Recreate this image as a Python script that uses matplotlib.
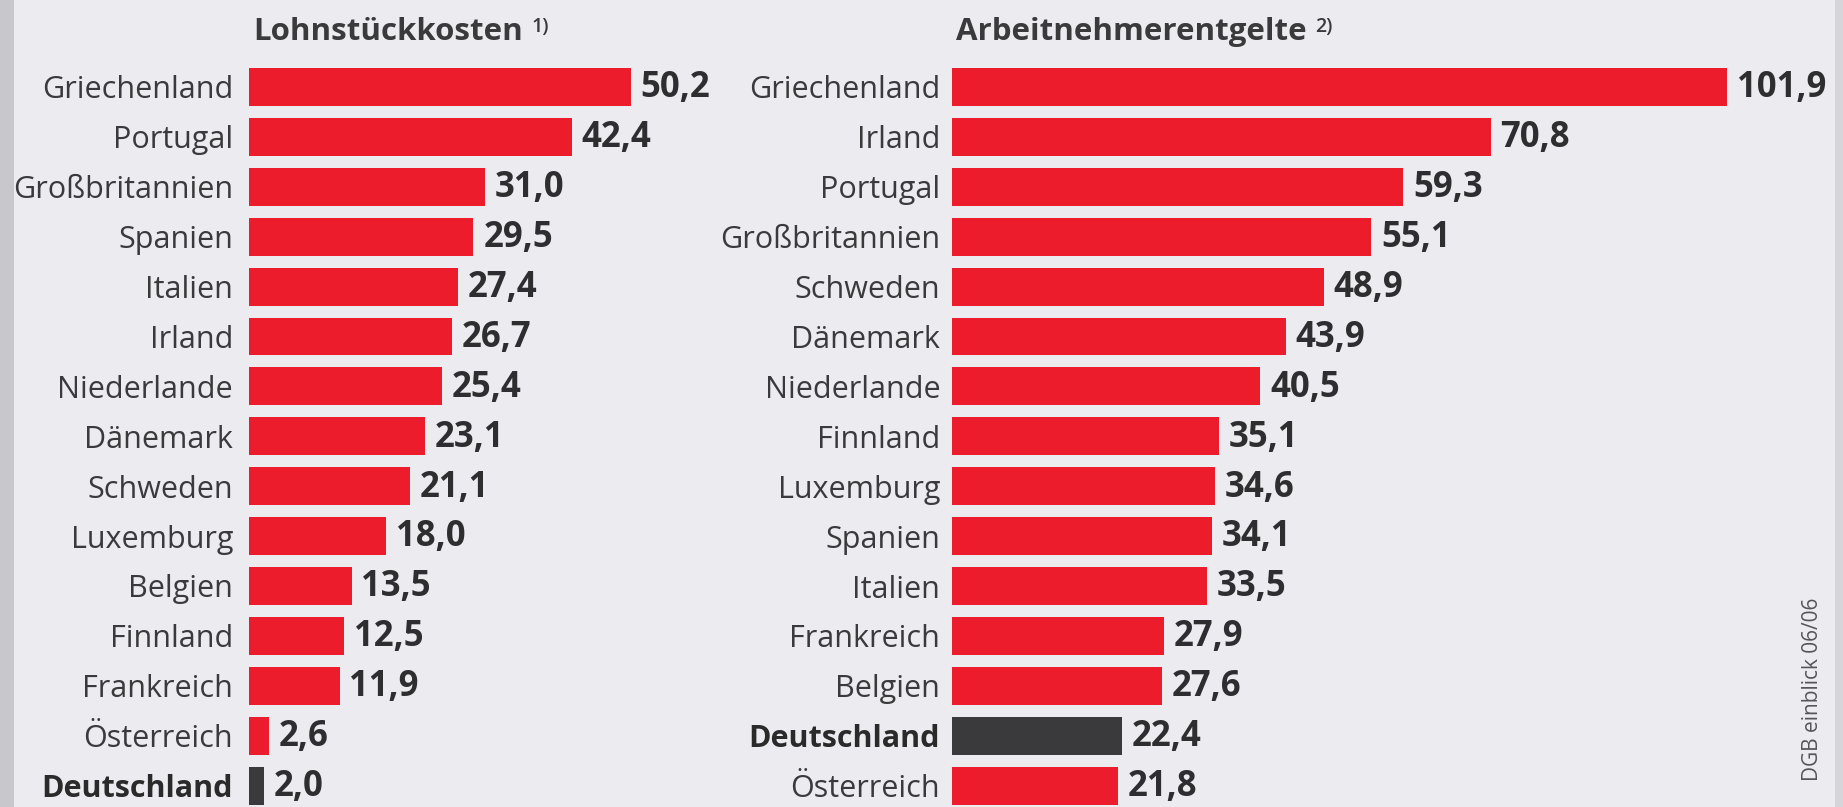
import matplotlib.pyplot as plt
from matplotlib.patches import Rectangle

#### data
left_countries = ['Griechenland', 'Portugal', 'Großbritannien', 'Spanien', 'Italien',
                  'Irland', 'Niederlande', 'Dänemark', 'Schweden', 'Luxemburg',
                  'Belgien', 'Finnland', 'Frankreich', 'Österreich', 'Deutschland']
left_values = [50.2, 42.4, 31.0, 29.5, 27.4, 26.7, 25.4, 23.1, 21.1, 18.0,
               13.5, 12.5, 11.9, 2.6, 2.0]

right_countries = ['Griechenland', 'Irland', 'Portugal', 'Großbritannien', 'Schweden',
                   'Dänemark', 'Niederlande', 'Finnland', 'Luxemburg', 'Spanien',
                   'Italien', 'Frankreich', 'Belgien', 'Deutschland', 'Österreich']
right_values = [101.9, 70.8, 59.3, 55.1, 48.9, 43.9, 40.5, 35.1, 34.6, 34.1,
                33.5, 27.9, 27.6, 22.4, 21.8]

left_title = 'Lohnstückkosten'
right_title = 'Arbeitnehmerentgelte'
left_note = '1)'
right_note = '2)'
source = 'DGB einblick 06/06'

#### styling
W, H = 1843, 807
BG = '#ecebf0'
RED = '#ec1c2c'
DARK = '#3a393b'
TXT = '#3a3a3c'
plt.rcParams['font.family'] = ['Open Sans', 'DejaVu Sans']

PX_PER_UNIT = 7.61
ROW = 49.9
FIRST = 87.0

fig = plt.figure(figsize=(W / 100, H / 100), dpi=100)
fig.patch.set_facecolor(BG)

### scanned page edges
fig.patches.append(Rectangle((0, 0), 14 / W, 1, transform=fig.transFigure,
                             facecolor='#c8c8cc', edgecolor='none', zorder=0))
fig.patches.append(Rectangle((1835 / W, 0), 8 / W, 1, transform=fig.transFigure,
                             facecolor='#d6d6da', edgecolor='none', zorder=0))


def panel(x0_px, width_px, countries, values, pad_label, title, note):
    ax = fig.add_axes([x0_px / W, 0, width_px / W, 1])
    ax.set_facecolor('none')
    ax.set_xlim(0, width_px / PX_PER_UNIT)
    ax.set_ylim((H - FIRST) / ROW, -FIRST / ROW)
    ypos = list(range(len(values)))
    colors = [DARK if c == 'Deutschland' else RED for c in countries]
    ax.barh(ypos, values, height=0.76, color=colors)
    for s in ax.spines.values():
        s.set_visible(False)
    ax.set_xticks([])
    ax.set_yticks(ypos)
    ax.set_yticklabels(countries, fontsize=22, color=TXT)
    ax.tick_params(axis='y', length=0, pad=pad_label)
    for lab in ax.get_yticklabels():
        if lab.get_text() == 'Deutschland':
            lab.set_fontweight('bold')
            lab.set_color('#2a2a2a')
    for y, v in zip(ypos, values):
        ax.annotate(f'{v:.1f}'.replace('.', ','), (v, y), xytext=(7, -1),
                    textcoords='offset points', va='center', ha='left',
                    fontsize=25, fontweight='bold', color='#2e2e30')
    t = fig.text((x0_px + 4) / W, 1 - 32 / H, title, fontsize=22.5,
                 fontweight='bold', color=TXT, va='center', ha='left')
    ax.annotate(note, xy=(1, 1), xycoords=t, xytext=(6, 0),
                textcoords='offset points', fontsize=14, fontweight='semibold',
                color=TXT, va='top', ha='left')
    return ax


panel(249, 560, left_countries, left_values, 11.5, left_title, left_note)
panel(952, 891, right_countries, right_values, 8.5, right_title, right_note)

fig.text(1813 / W, 1 - 598 / H, source, rotation=90, ha='center', va='top',
         fontsize=15, color='#555558')

fig.savefig('out.png', dpi=100, facecolor=fig.get_facecolor())
